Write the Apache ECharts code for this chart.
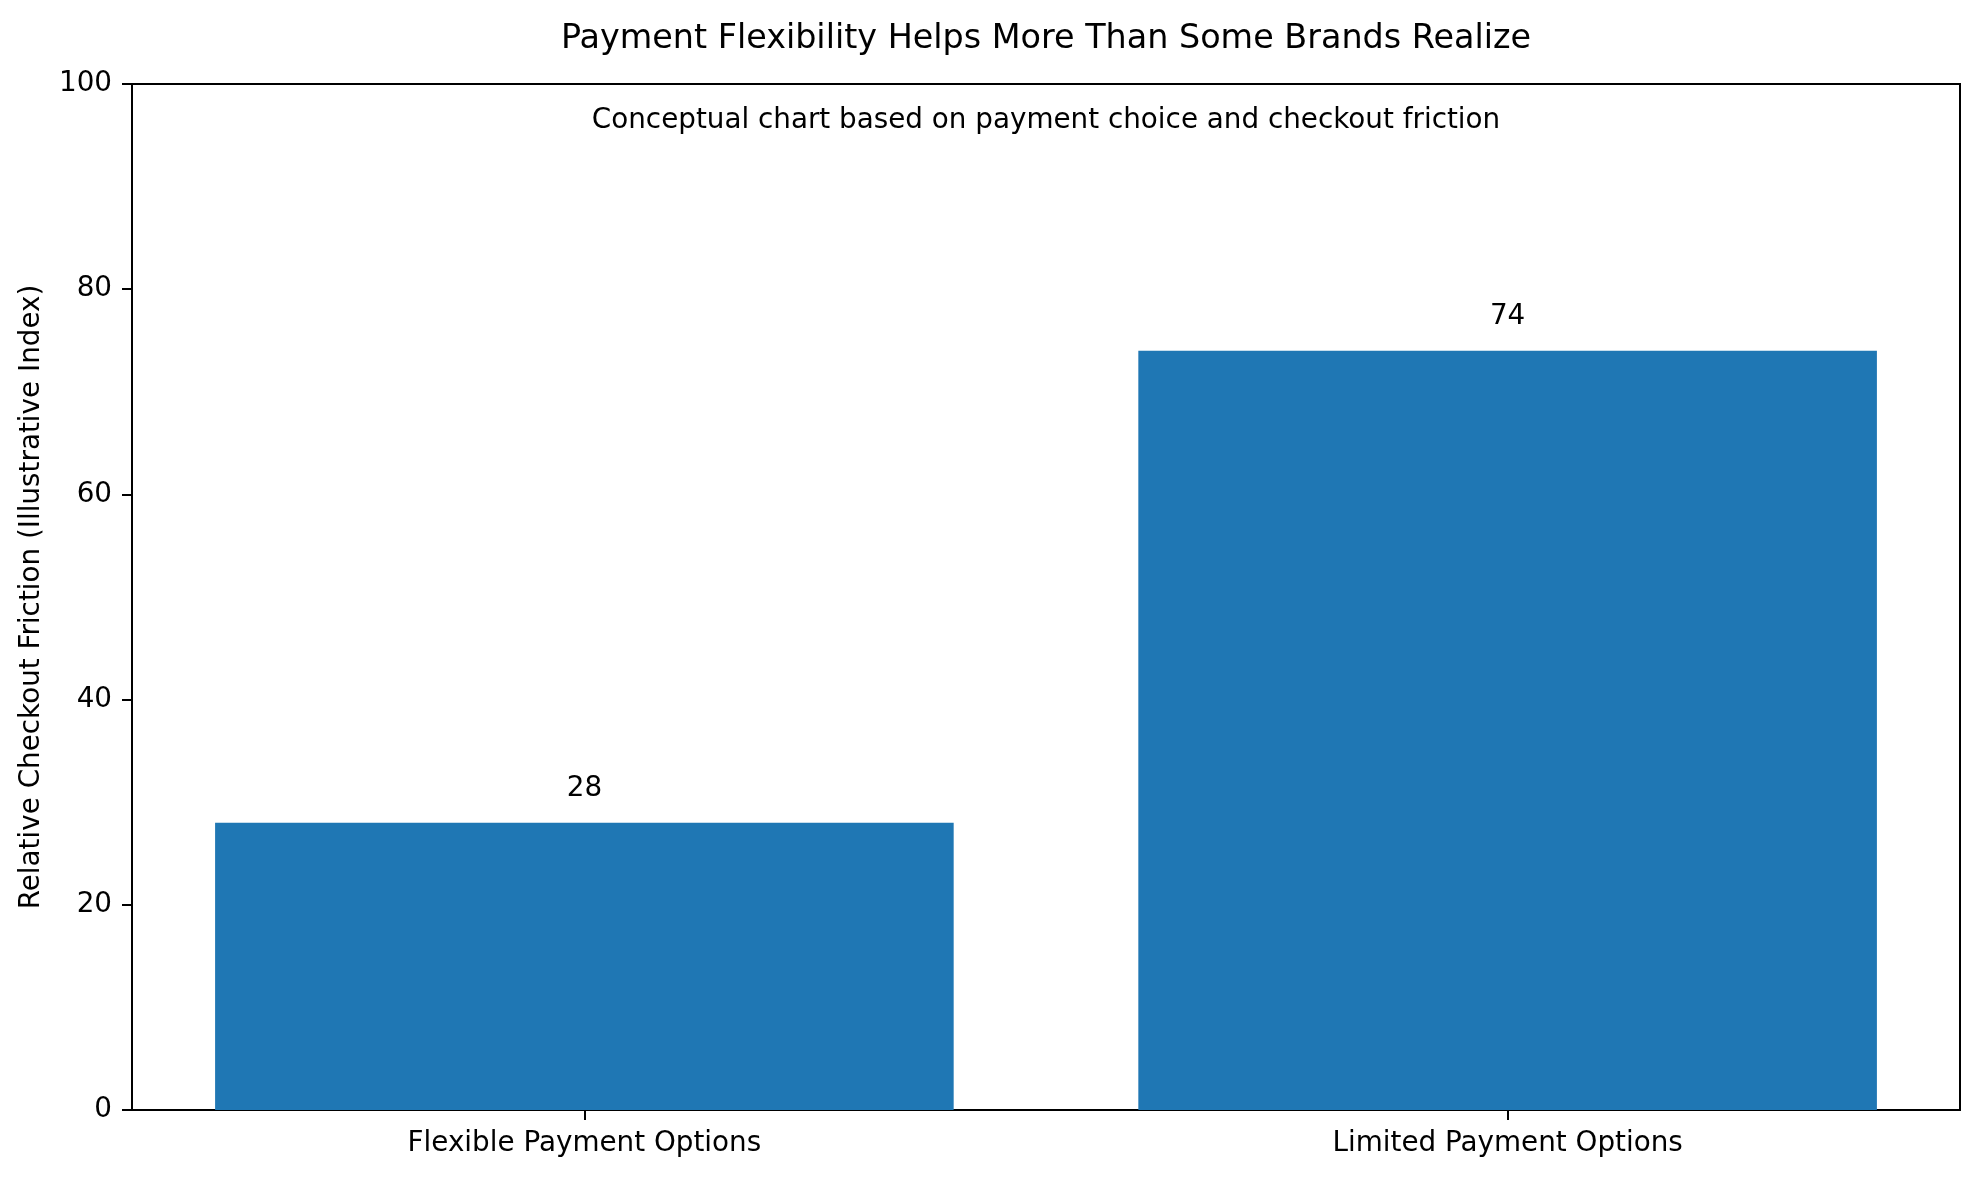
<!DOCTYPE html>
<html>
<head>
<meta charset="utf-8">
<script src="https://cdn.jsdelivr.net/npm/echarts@6/dist/echarts.min.js"></script>
<style>html,body{margin:0;padding:0;background:#fff}#c{width:1980px;height:1177px}</style>
</head>
<body>
<div id="c"></div>
<script>
const categories = ["Flexible Payment Options", "Limited Payment Options"];
const values = [28, 74];
const yTicks = [0, 20, 40, 60, 80, 100];
const titleText = "Payment Flexibility Helps More Than Some Brands Realize";
const subtitleText = "Conceptual chart based on payment choice and checkout friction";
const yName = "Relative Checkout Friction (Illustrative Index)";

const FONT = "'DejaVu Sans', sans-serif";
const FS = 27.8;
const chart = echarts.init(document.getElementById('c'), null, {renderer: 'canvas'});
const barData = values.map((v, i) => [i, v]);
const catIdx = categories.map((_, i) => i);

chart.setOption({
  animation: false,
  backgroundColor: '#fff',
  grid: {left: 132, right: 20, top: 84, bottom: 67, show: true, borderColor: '#000', borderWidth: 2, backgroundColor: 'transparent'},
  xAxis: {
    type: 'value', min: -0.49, max: 1.49,
    splitLine: {show: false},
    axisLine: {show: true, onZero: false, lineStyle: {color: '#000', width: 2}},
    axisTick: {show: true, customValues: catIdx, length: 10, inside: false, lineStyle: {color: '#000', width: 2}},
    axisLabel: {show: true, customValues: catIdx, formatter: v => categories[Math.round(v)], color: '#000', fontSize: FS, fontFamily: FONT, margin: 20}
  },
  yAxis: {
    type: 'value', min: yTicks[0], max: yTicks[yTicks.length - 1], interval: 20,
    splitLine: {show: false},
    axisLine: {show: true, onZero: false, lineStyle: {color: '#000', width: 2}},
    axisTick: {show: true, length: 10, lineStyle: {color: '#000', width: 2}},
    axisLabel: {color: '#000', fontSize: FS, fontFamily: FONT, margin: 20, padding: [5, 0, 0, 0]},
    name: yName, nameLocation: 'middle', nameRotate: 90, nameGap: 86,
    nameTextStyle: {color: '#000', fontSize: FS, fontFamily: FONT}
  },
  graphic: [
    {type: 'text', x: 1046, y: 39, style: {text: titleText, font: "33.4px 'DejaVu Sans', sans-serif", fill: '#000', align: 'center', verticalAlign: 'middle'}},
    {type: 'text', x: 1046, y: 121, style: {text: subtitleText, font: FS + "px 'DejaVu Sans', sans-serif", fill: '#000', align: 'center', verticalAlign: 'middle'}}
  ],
  series: [{
    type: 'custom',
    data: barData,
    encode: {x: 0, y: 1},
    renderItem: function (params, api) {
      const x = api.value(0), y = api.value(1);
      const top = api.coord([x, y]);
      const base = api.coord([x, 0]);
      const w = api.size([0.8, 0])[0];
      return {
        type: 'rect',
        shape: {x: top[0] - w / 2, y: top[1], width: w, height: base[1] - top[1]},
        style: {fill: '#1f77b4'},
        textContent: {style: {text: String(y), fill: '#000', font: FS + "px 'DejaVu Sans', sans-serif"}},
        textConfig: {position: 'top', distance: 20}
      };
    }
  }]
});
</script>
</body>
</html>
